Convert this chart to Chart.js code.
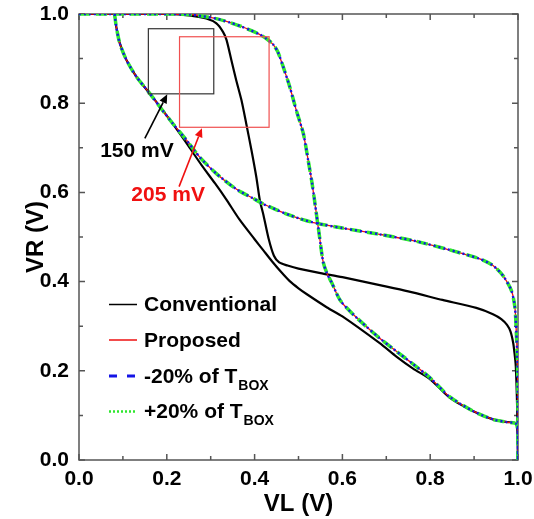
<!DOCTYPE html>
<html>
<head>
<meta charset="utf-8">
<script src="https://cdn.jsdelivr.net/npm/chart.js@4.4.1/dist/chart.umd.min.js"></script>
<style>
html,body{margin:0;padding:0;background:#fff;}
#wrap{width:534px;height:519px;}
</style>
</head>
<body>
<div id="wrap"><canvas id="c" width="534" height="519"></canvas></div>
<script>
// ---- data ----
// Conventional cell: branch A (VR vs VL, steep drop from top-left) and branch B
const convAX = [0, 0.1, 0.2, 0.25, 0.29, 0.313, 0.328, 0.336, 0.347, 0.358, 0.37, 0.381, 0.393, 0.404, 0.412, 0.42, 0.432, 0.444, 0.456, 0.475, 0.5, 0.55, 0.6, 0.685, 0.75, 0.828, 0.905, 0.943, 0.962, 0.975, 0.983, 0.989, 0.992, 0.995, 0.998, 1.0];
const convAY = [1, 1, 1, 0.997, 0.99, 0.979, 0.96, 0.942, 0.897, 0.852, 0.807, 0.754, 0.694, 0.634, 0.582, 0.55, 0.496, 0.458, 0.443, 0.436, 0.429, 0.419, 0.410, 0.392, 0.378, 0.359, 0.341, 0.327, 0.316, 0.303, 0.288, 0.263, 0.240, 0.210, 0.12, 0];
const convBX = [0.081, 0.085, 0.093, 0.108, 0.131, 0.161, 0.19, 0.22, 0.25, 0.28, 0.31, 0.335, 0.365, 0.4, 0.42, 0.44, 0.46, 0.48, 0.5, 0.52, 0.565, 0.6, 0.685, 0.723, 0.761, 0.8, 0.844, 0.897, 0.943, 0.975, 0.996, 1.0, 1.0];
const convBY = [1, 0.971, 0.934, 0.897, 0.859, 0.822, 0.785, 0.745, 0.703, 0.66, 0.62, 0.585, 0.54, 0.495, 0.47, 0.445, 0.422, 0.401, 0.385, 0.371, 0.342, 0.322, 0.262, 0.232, 0.205, 0.181, 0.140, 0.110, 0.091, 0.085, 0.082, 0.05, 0];
// Proposed cell
const propAX = [0, 0.1, 0.2, 0.25, 0.282, 0.315, 0.343, 0.37, 0.39, 0.41, 0.428, 0.442, 0.453, 0.465, 0.48, 0.495, 0.511, 0.522, 0.531, 0.541, 0.548, 0.556, 0.565, 0.576, 0.595, 0.626, 0.685, 0.761, 0.799, 0.844, 0.897, 0.943, 0.975, 0.996, 1.0, 1.0];
const propAY = [1, 1, 1, 0.999, 0.995, 0.989, 0.981, 0.972, 0.964, 0.955, 0.944, 0.932, 0.915, 0.882, 0.837, 0.784, 0.732, 0.672, 0.62, 0.55, 0.5, 0.445, 0.418, 0.397, 0.358, 0.325, 0.273, 0.215, 0.185, 0.142, 0.110, 0.091, 0.085, 0.081, 0.05, 0];
const propBX = [0.081, 0.085, 0.093, 0.108, 0.131, 0.161, 0.184, 0.214, 0.245, 0.275, 0.313, 0.359, 0.396, 0.42, 0.45, 0.48, 0.51, 0.54, 0.6, 0.685, 0.761, 0.837, 0.913, 0.943, 0.966, 0.985, 0.993, 0.996, 0.999, 1.0, 1.0];
const propBY = [1, 0.971, 0.934, 0.897, 0.859, 0.822, 0.792, 0.754, 0.717, 0.679, 0.642, 0.607, 0.587, 0.574, 0.561, 0.549, 0.539, 0.531, 0.52, 0.506, 0.492, 0.473, 0.451, 0.436, 0.413, 0.38, 0.342, 0.29, 0.215, 0.1, 0];
// -20% and +20% of T_BOX overlap the proposed curves
const minusAX = propAX.slice(), minusAY = propAY.slice(), minusBX = propBX.slice(), minusBY = propBY.slice();
const plusAX = propAX.slice(), plusAY = propAY.slice(), plusBX = propBX.slice(), plusBY = propBY.slice();
// tick labels
const tickValues = [0, 0.2, 0.4, 0.6, 0.8, 1.0];
const tickLabels = ['0.0', '0.2', '0.4', '0.6', '0.8', '1.0'];
// annotations (data units)
const boxBlack = [0.158, 0.307, 0.821, 0.967];   // x1,x2,y1,y2
const boxRed = [0.229, 0.433, 0.746, 0.949];
const arrowBlack = [0.150, 0.721, 0.201, 0.820]; // tail x,y, tip x,y
const arrowRed = [0.228, 0.613, 0.280, 0.744];
const labelBlack = ['150 mV', 0.132, 0.680];
const labelRed = ['205 mV', 0.203, 0.581];

// ---- styles ----
const FONT = 'Arial, "Liberation Sans", Helvetica, sans-serif';
const C_BLACK = '#000000', C_RED = '#ee1111', C_BLUE = '#1414e6', C_GREEN = '#2ee82e';

function pts(xs, ys) { return xs.map((x, i) => ({ x: x, y: ys[i] })); }

function ds(label, xs, ys, color, width, dash, order) {
  return { label: label, data: pts(xs, ys), borderColor: color, backgroundColor: color,
    borderWidth: width, borderDash: dash, showLine: true, pointRadius: 0, order: order,
    tension: 0.25, fill: false, borderCapStyle: 'butt', borderJoinStyle: 'round' };
}

const framePlugin = {
  id: 'frame',
  beforeDatasetsDraw(chart) {
    const { ctx, chartArea: { left, right, top, bottom }, scales: { x, y } } = chart;
    ctx.save();
    ctx.strokeStyle = '#555';
    ctx.lineWidth = 1.5;
    ctx.strokeRect(left, top, right - left, bottom - top);
    ctx.beginPath();
    for (let i = 0; i <= 10; i++) {
      const v = i / 10;
      const L = (i % 2 === 0) ? 6 : 4;
      const px = x.getPixelForValue(v);
      ctx.moveTo(px, bottom); ctx.lineTo(px, bottom - L);
      ctx.moveTo(px, top); ctx.lineTo(px, top + L);
      const py = y.getPixelForValue(v);
      ctx.moveTo(left, py); ctx.lineTo(left + L, py);
      ctx.moveTo(right, py); ctx.lineTo(right - L, py);
    }
    ctx.stroke();
    ctx.restore();
  }
};

function drawArrow(ctx, x0, y0, x1, y1, color) {
  const ang = Math.atan2(y1 - y0, x1 - x0);
  const hl = 9, hw = 4;
  const bx = x1 - hl * Math.cos(ang), by = y1 - hl * Math.sin(ang);
  ctx.strokeStyle = color; ctx.fillStyle = color; ctx.lineWidth = 1.6;
  ctx.beginPath(); ctx.moveTo(x0, y0); ctx.lineTo(bx, by); ctx.stroke();
  ctx.beginPath();
  ctx.moveTo(x1, y1);
  ctx.lineTo(bx + hw * Math.sin(ang), by - hw * Math.cos(ang));
  ctx.lineTo(bx - hw * Math.sin(ang), by + hw * Math.cos(ang));
  ctx.closePath(); ctx.fill();
}

const overlayPlugin = {
  id: 'overlay',
  afterDatasetsDraw(chart) {
    const { ctx, scales: { x, y } } = chart;
    ctx.save();
    const sq = (b, color) => {
      const X1 = x.getPixelForValue(b[0]), X2 = x.getPixelForValue(b[1]);
      const Y1 = y.getPixelForValue(b[2]), Y2 = y.getPixelForValue(b[3]);
      ctx.strokeStyle = color; ctx.lineWidth = 1.2;
      ctx.strokeRect(X1, Y2, X2 - X1, Y1 - Y2);
    };
    sq(boxBlack, '#333');
    sq(boxRed, '#f05050');
    drawArrow(ctx, x.getPixelForValue(arrowBlack[0]), y.getPixelForValue(arrowBlack[1]),
      x.getPixelForValue(arrowBlack[2]), y.getPixelForValue(arrowBlack[3]), '#000');
    drawArrow(ctx, x.getPixelForValue(arrowRed[0]), y.getPixelForValue(arrowRed[1]),
      x.getPixelForValue(arrowRed[2]), y.getPixelForValue(arrowRed[3]), '#f01010');
    ctx.font = 'bold 21px ' + FONT;
    ctx.textAlign = 'center'; ctx.textBaseline = 'alphabetic';
    ctx.fillStyle = '#000';
    ctx.fillText(labelBlack[0], x.getPixelForValue(labelBlack[1]), y.getPixelForValue(labelBlack[2]));
    ctx.fillStyle = '#f01010';
    ctx.fillText(labelRed[0], x.getPixelForValue(labelRed[1]), y.getPixelForValue(labelRed[2]));

    // legend
    const rows = [
      { text: 'Conventional', sub: '', color: C_BLACK, w: 1.5, dash: [], base: 311 },
      { text: 'Proposed', sub: '', color: C_RED, w: 1.5, dash: [], base: 346.5 },
      { text: '-20% of T', sub: 'BOX', color: C_BLUE, w: 3, dash: [8, 10], base: 382.5 },
      { text: '+20% of T', sub: 'BOX', color: C_GREEN, w: 2.5, dash: [2, 2], base: 418 }
    ];
    ctx.textAlign = 'left';
    rows.forEach(r => {
      ctx.strokeStyle = r.color; ctx.lineWidth = r.w; ctx.setLineDash(r.dash);
      ctx.beginPath(); ctx.moveTo(109, r.base - 6.5); ctx.lineTo(137, r.base - 6.5); ctx.stroke();
      ctx.setLineDash([]);
      ctx.fillStyle = '#000';
      ctx.font = 'bold 21px ' + FONT;
      ctx.fillText(r.text, 144, r.base);
      if (r.sub) {
        const w = ctx.measureText(r.text).width;
        ctx.font = 'bold 14px ' + FONT;
        ctx.fillText(r.sub, 144 + w + 1, r.base + 7);
      }
    });
    ctx.restore();
  }
};

const axisFont = { family: FONT, size: 21, weight: 'bold' };
const titleFont = { family: FONT, size: 24, weight: 'bold', lineHeight: 1.2 };

new Chart(document.getElementById('c'), {
  type: 'scatter',
  data: {
    datasets: [
      ds('Conventional', convAX, convAY, C_BLACK, 2.2, [], 4),
      ds('Conventional', convBX, convBY, C_BLACK, 2.2, [], 4),
      ds('Proposed', propAX, propAY, C_RED, 1.3, [], 3),
      ds('Proposed', propBX, propBY, C_RED, 1.3, [], 3),
      ds('+20% of TBOX', plusAX, plusAY, C_GREEN, 3.5, [11, 6], 2),
      ds('+20% of TBOX', plusBX, plusBY, C_GREEN, 3.5, [11, 6], 2),
      ds('-20% of TBOX', minusAX, minusAY, C_BLUE, 2.4, [2, 3], 1),
      ds('-20% of TBOX', minusBX, minusBY, C_BLUE, 2.4, [2, 3], 1)
    ]
  },
  options: {
    responsive: false,
    animation: false,
    devicePixelRatio: 1,
    layout: { padding: { left: 0, right: 16, top: 14, bottom: 0 } },
    plugins: { legend: { display: false }, tooltip: { enabled: false } },
    scales: {
      x: {
        type: 'linear', position: 'bottom', min: 0, max: 1,
        afterBuildTicks(s) { s.ticks = tickValues.map(v => ({ value: v })); },
        ticks: { padding: 7, color: '#000', font: axisFont, maxRotation: 0, autoSkip: false,
          callback: (v, i) => tickLabels[i] },
        grid: { display: false, drawTicks: false },
        border: { display: false },
        title: { display: true, text: 'VL (V)', color: '#000', font: titleFont, padding: { top: 0, bottom: 0 } },
        afterFit(s) { s.height = 59; s.paddingLeft = 0; s.paddingRight = 0; s.paddingTop = 0; s.paddingBottom = 0; }
      },
      y: {
        type: 'linear', position: 'left', min: 0, max: 1,
        afterBuildTicks(s) { s.ticks = tickValues.map(v => ({ value: v })); },
        ticks: { padding: 10, color: '#000', font: axisFont, autoSkip: false,
          callback: (v, i) => tickLabels[i] },
        grid: { display: false, drawTicks: false },
        border: { display: false },
        title: { display: true, text: 'VR (V)', color: '#000', font: titleFont, padding: { top: 22, bottom: 0 } },
        afterFit(s) { s.width = 79; s.paddingLeft = 0; s.paddingRight = 0; s.paddingTop = 0; s.paddingBottom = 0; }
      }
    }
  },
  plugins: [framePlugin, overlayPlugin]
});
</script>
</body>
</html>
